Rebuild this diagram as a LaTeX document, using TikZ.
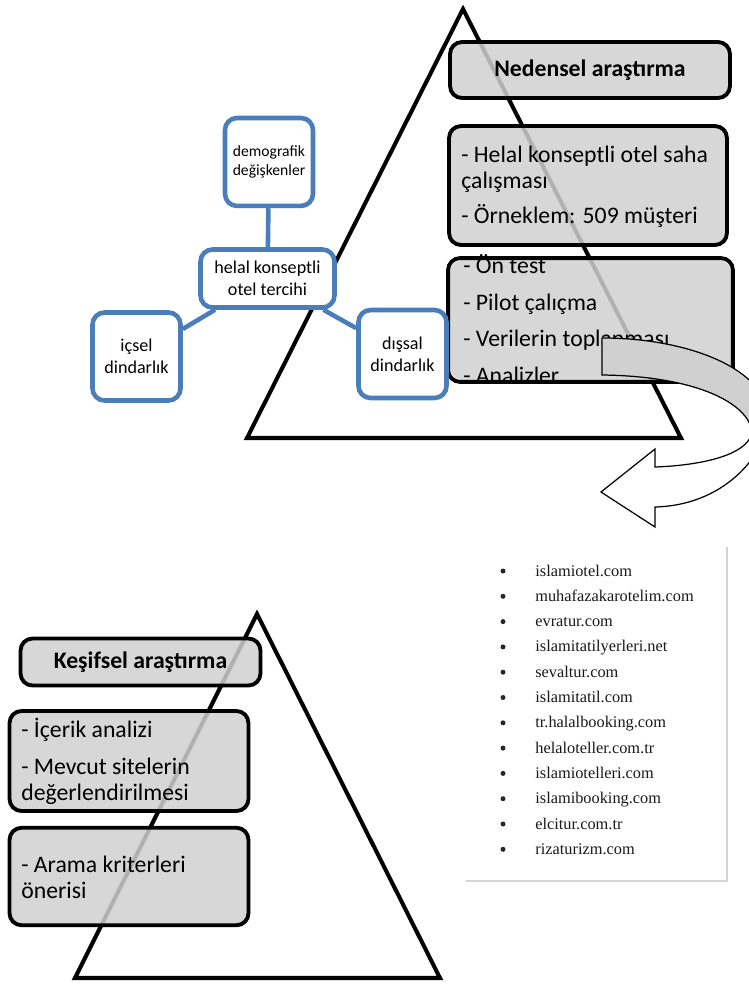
\documentclass[tikz,border=0pt]{standalone}
\usepackage{fontspec}
\setmainfont{Carlito}
\newfontfamily\sitefont{Liberation Serif}
\usetikzlibrary{positioning}
\definecolor{boxgray}{HTML}{D0D0D0}
\definecolor{mapblue}{HTML}{4A7EBB}
\definecolor{framegray}{HTML}{D4D4D4}

\begin{document}
\begin{tikzpicture}[x=0.02cm,y=-0.02cm,
  tri/.style={draw=black,line width=2.3pt,line join=miter},
  stage/.style={draw=black,line width=2.2pt,rounded corners=2.4mm,fill=boxgray,fill opacity=.85,text opacity=1,inner sep=0pt},
  stagetitle/.style={stage,font=\fontsize{13.5}{16}\selectfont\bfseries},
  item/.style={anchor=base west,align=left,inner sep=0pt,font=\fontsize{13.5}{14.7}\selectfont},
  mapbox/.style={draw=mapblue,line width=2.6pt,rounded corners=2.4mm,fill=white,align=center,inner sep=0pt,
    minimum width=1.76cm,minimum height=1.76cm,font=\fontsize{10.3}{12.4}\selectfont},
  maplink/.style={draw=mapblue,line width=2.6pt},
  turn/.style={draw=black,line width=0.7pt,line join=miter},
  dot/.style={circle,fill=black!85,inner sep=0pt,minimum size=0.1cm},
  site/.style={anchor=base west,inner sep=0pt,text=black!90,font=\sitefont\fontsize{9.3}{11}\selectfont}]
  \clip (0,0) rectangle (749,985);
  \fill[white] (0,0) rectangle (749,985);

  % nedensel arastirma
  \draw[tri] (463,9) -- (681,438) -- (247,438) -- cycle;
  \node[stagetitle,minimum width=5.6cm,minimum height=1.12cm] (ned) at (590,70) {Nedensel araştırma};
  \node[stage,minimum width=5.56cm,minimum height=2.38cm] (saha) at (588,185.5) {};
  \node[item] (sahatext) at (461,223) {- Helal konseptli otel saha\\çalışması\\[5.1pt]- Örneklem: 509 müşteri};
  \node[stage,draw=none,minimum width=5.62cm,minimum height=2.4cm] (pilot) at (590.5,320) {};
  \node[item] (pilottext) at (463,383) {- Ön test\\[6pt]- Pilot çalıçma\\[6pt]- Verilerin toplanması\\[6pt]- Analizler};
  \draw[line width=2.2pt,rounded corners=2.4mm] (pilot.south west) rectangle (pilot.north east);

  % model
  \node[mapbox,minimum width=2.68cm,minimum height=1.16cm] (hub) at (267.5,278.5) {helal konseptli\\otel tercihi};
  \node[mapbox,above=0.78cm of hub,xshift=0.03cm,font=\fontsize{8.9}{10.4}\selectfont] (demo) {demografik\\değişkenler};
  \node[mapbox] (icsel) at (136.5,356.5) {içsel\\dindarlık};
  \node[mapbox] (dissal) at (402.5,354) {dışsal\\dindarlık};
  \draw[maplink] (demo) -- (hub);
  \draw[maplink] (hub) -- (icsel);
  \draw[maplink] (hub) -- (dissal);

  % donus oku
  \filldraw[turn,fill=boxgray] (602,338) .. controls (690,338) and (768,370) .. (768,418)
    -- (752,430) .. controls (745,400) and (690,376) .. (602,375) -- cycle;
  \filldraw[turn,fill=white] (768,418) .. controls (768,448) and (730,505) .. (655,507)
    -- (655,527) -- (601,492) -- (655,449) -- (655,467)
    .. controls (710,465) and (752,452) .. (752,430) -- cycle;

  % site listesi
  \draw[framegray,line width=0.6pt] (466,881) -- (727,881) -- (727,547);
  \foreach \site [count=\i] in {islamiotel.com,muhafazakarotelim.com,evratur.com,islamitatilyerleri.net,
    sevaltur.com,islamitatil.com,tr.halalbooking.com,helaloteller.com.tr,islamiotelleri.com,
    islamibooking.com,elcitur.com.tr,rizaturizm.com}
  {
    \node[dot] (dot\i) at (503,{571+25.3*(\i-1)}) {};
    \node[site] (site\i) at (535,{576+25.3*(\i-1)}) {\site};
  }

  % kesifsel arastirma
  \draw[tri] (257,614) -- (440,978) -- (75,978) -- cycle;
  \node[stagetitle,minimum width=4.8cm,minimum height=0.94cm] (kes) at (140.5,662) {Keşifsel araştırma};
  \node[stage,minimum width=4.78cm,minimum height=2.0cm] (icerik) at (129,761) {};
  \node[item] (iceriktext) at (21,800) {- İçerik analizi\\[6.3pt]- Mevcut sitelerin\\değerlendirilmesi};
  \node[stage,minimum width=4.78cm,minimum height=1.95cm] (arama) at (129,876.5) {};
  \node[item] (aramatext) at (21,898) {- Arama kriterleri\\önerisi};
\end{tikzpicture}
\end{document}
